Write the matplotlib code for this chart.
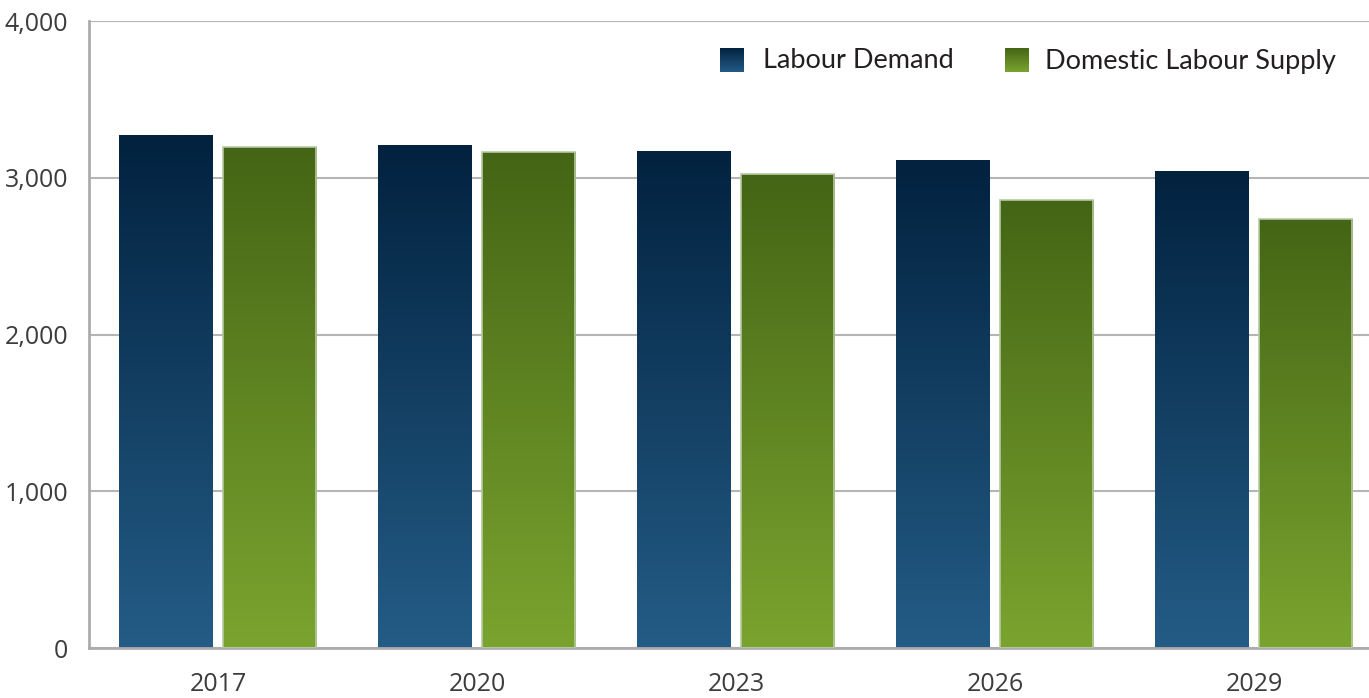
import matplotlib
matplotlib.use("Agg")
import matplotlib.pyplot as plt
import numpy as np
from matplotlib.colors import LinearSegmentedColormap

years = ["2017", "2020", "2023", "2026", "2029"]
labour_demand = [3272, 3209, 3171, 3113, 3043]
domestic_supply = [3198, 3164, 3024, 2856, 2739]
series_names = ["Labour Demand", "Domestic Labour Supply"]
yticks = [0, 1000, 2000, 3000, 4000]
ytick_labels = ["0", "1,000", "2,000", "3,000", "4,000"]

plt.rcParams['font.family'] = ['Lato', 'DejaVu Sans']

W, H = 1369, 698
fig = plt.figure(figsize=(W / 100, H / 100), dpi=100)
ax = fig.add_axes([89 / W, (H - 648) / H, (W - 89) / W, (648 - 21) / H])

blue_cmap = LinearSegmentedColormap.from_list("b", ["#245c86", "#02223f"])
green_cmap = LinearSegmentedColormap.from_list("g", ["#7aa42f", "#446515"])

x = np.arange(len(years))
bw = 0.36
off_d, off_s = -0.203, 0.196
grad = np.linspace(0, 1, 256).reshape(-1, 1)

def gradient_bars(xs, vals, cmap, edge):
    bars = ax.bar(xs, vals, bw, facecolor="none", edgecolor=edge, linewidth=1.2, zorder=3)
    for b in bars:
        x0, y0 = b.get_x(), b.get_y()
        w, h = b.get_width(), b.get_height()
        im = ax.imshow(grad, extent=[x0, x0 + w, y0, y0 + h], origin="lower",
                       aspect="auto", cmap=cmap, zorder=2)
        im.set_clip_path(b)
    return bars

gradient_bars(x + off_d, labour_demand, blue_cmap, "none")
gradient_bars(x + off_s, domestic_supply, green_cmap, "#b7c9a0")

ax.set_xlim(-0.5, -0.5 + (W - 89) / 259)
ax.set_ylim(0, 4000)
ax.set_yticks(yticks)
ax.set_yticklabels(ytick_labels)
ax.set_xticks(x)
ax.set_xticklabels(years)
ax.tick_params(axis="both", length=0, labelsize=18, labelcolor="#3c3c3c")
for lab in ax.get_xticklabels() + ax.get_yticklabels():
    lab.set_fontfamily(["Open Sans", "DejaVu Sans"])
ax.tick_params(axis="y", pad=15)
ax.tick_params(axis="x", pad=17)
ax.grid(axis="y", color="#b5b5b8", linewidth=1.5, zorder=0)
ax.set_axisbelow(True)
for s in ["top", "right"]:
    ax.spines[s].set_visible(False)
for s in ["left", "bottom"]:
    ax.spines[s].set_color("#acacae")
    ax.spines[s].set_linewidth(2)

# legend
def leg_square(x0, cmap):
    y_top, y_bot = 48, 72
    axl = fig.add_axes([x0 / W, (H - y_bot) / H, 24 / W, (y_bot - y_top) / H])
    axl.imshow(grad, origin="lower", aspect="auto", cmap=cmap, extent=[0, 1, 0, 1])
    axl.axis("off")

leg_square(720, blue_cmap)
leg_square(1005, green_cmap)
fig.text(763 / W, 1 - 61 / H, series_names[0], fontsize=19.5, color="#231f20", va="center", ha="left")
fig.text(1045 / W, 1 - 61 / H, series_names[1], fontsize=19.5, color="#231f20", va="center", ha="left")

fig.savefig("out.png", dpi=100)
